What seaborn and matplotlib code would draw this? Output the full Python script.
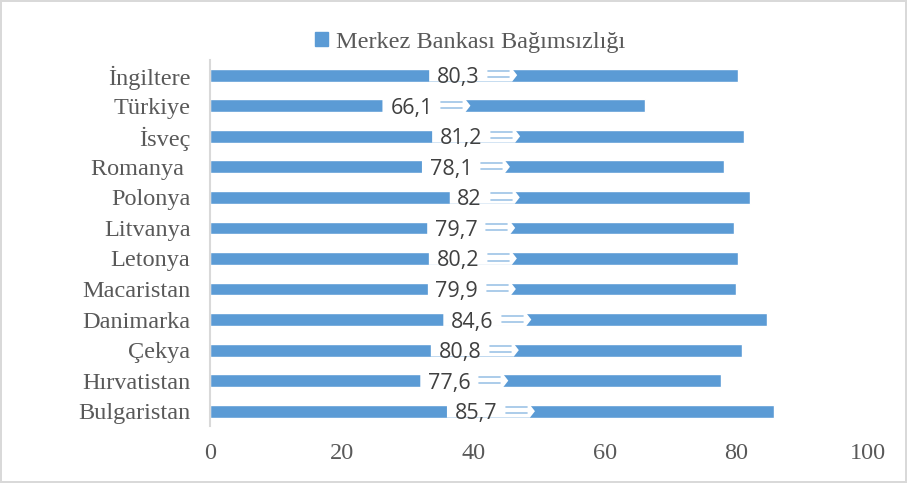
import numpy as np
import pandas as pd
import seaborn as sns
import matplotlib.pyplot as plt
from matplotlib.patches import Patch

# veriler
ulkeler = ['İngiltere', 'Türkiye', 'İsveç', 'Romanya ', 'Polonya', 'Litvanya',
           'Letonya', 'Macaristan', 'Danimarka', 'Çekya', 'Hırvatistan', 'Bulgaristan']
degerler = [80.3, 66.1, 81.2, 78.1, 82, 79.7, 80.2, 79.9, 84.6, 80.8, 77.6, 85.7]
etiketler = ['80,3', '66,1', '81,2', '78,1', '82', '79,7', '80,2', '79,9', '84,6', '80,8', '77,6', '85,7']
x_ticks = [0, 20, 40, 60, 80, 100]
seri_adi = 'Merkez Bankası Bağımsızlığı'

mavi = '#5b9bd5'
gri = '#595959'
bh = 0.42  # bar kalinligi
px = 1 / 6.58  # 1 piksel ~ veri birimi

df = pd.DataFrame({'ulke': ulkeler, 'deger': degerler})

sns.set_style('white')
plt.rcParams['font.family'] = ['Liberation Serif', 'DejaVu Serif']

fig = plt.figure(figsize=(9.07, 4.83), dpi=100, edgecolor='#d9d9d9', linewidth=1.5)
ax = fig.add_axes([0.2315, 0.117, 0.7255, 0.759])

sns.barplot(data=df, x='deger', y='ulke', color=mavi, saturation=1, width=bh, ax=ax)

# etiketler (Excel "callout" gibi)
for i, (v, lab) in enumerate(zip(degerler, etiketler)):
    c = v / 2
    kisa = len(lab) < 4
    sol = c + (-45 + (15 if kisa else 0)) * px
    tx = c + (-16 + (5 if kisa else 0)) * px
    a0 = c + (14 - (3 if kisa else 0)) * px
    uc = c + (43 - (3 if kisa else 0)) * px
    xs = [sol, uc - 5 * px, uc, uc - 5 * px, sol]
    ys = [i - bh / 2, i - bh / 2, i, i + bh / 2, i + bh / 2]
    ax.fill(xs, ys, color='white', zorder=4, lw=0)
    ax.plot([a0, uc - 8 * px], [i - 0.13, i - 0.13], color='#9dc3e6', lw=1.2, zorder=6)
    ax.plot([a0, uc - 8 * px], [i + 0.07, i + 0.07], color='#9dc3e6', lw=1.2, zorder=6)
    ax.text(tx, i + 0.26, lab, ha='center', va='baseline', fontsize=15.5, color='#404040',
            family=['Open Sans', 'DejaVu Sans'], zorder=7)

ax.set_xlim(0, 100)
ax.set_ylim(len(ulkeler) - 0.5, -0.5)
ax.set_xticks(x_ticks)
ax.set_xticklabels([str(t) for t in x_ticks], fontsize=17.5, color=gri)
ax.tick_params(axis='x', length=0, pad=12)
ax.tick_params(axis='y', length=0, pad=14, labelsize=17.5, labelcolor=gri)
ax.set_xlabel('')
ax.set_ylabel('')
for s in ['top', 'right', 'bottom']:
    ax.spines[s].set_visible(False)
ax.spines['left'].set_color('#d9d9d9')
ax.spines['left'].set_linewidth(1.5)

fig.legend(handles=[Patch(color=mavi)], labels=[seri_adi], loc='center',
           bbox_to_anchor=(0.518, 0.913), frameon=False, fontsize=17.5,
           handlelength=0.55, handleheight=0.55, handletextpad=0.3, labelcolor=gri)

fig.savefig('out.png', dpi=100)
